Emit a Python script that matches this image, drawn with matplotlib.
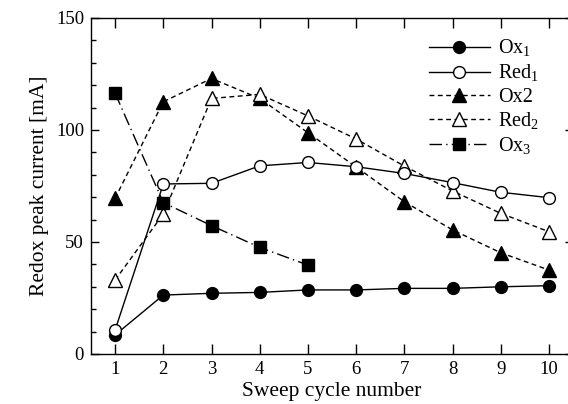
import matplotlib
matplotlib.use('Agg')
import matplotlib.pyplot as plt
from matplotlib.ticker import MultipleLocator

# sweep cycle numbers
cycles = [1, 2, 3, 4, 5, 6, 7, 8, 9, 10]
cycles_ox3 = [1, 2, 3, 4, 5]

# peak currents [mA]
ox1 = [8.5, 26.3, 27.1, 27.5, 28.6, 28.6, 29.3, 29.3, 30.0, 30.5]
red1 = [10.7, 75.9, 76.2, 84.0, 85.5, 83.6, 80.6, 76.5, 72.2, 69.8]
ox2 = [69.5, 112.6, 123.0, 114.1, 98.8, 83.5, 68.0, 55.4, 45.2, 37.5]
red2 = [33.0, 62.5, 114.1, 115.9, 106.3, 96.0, 83.9, 72.8, 62.8, 54.6]
ox3 = [116.4, 67.6, 57.3, 47.6, 39.7]

plt.rcParams.update({
    'font.family': 'Liberation Serif',
    'mathtext.fontset': 'custom',
    'mathtext.rm': 'Liberation Serif',
    'font.size': 13,
    'axes.linewidth': 1.0,
})

fig = plt.figure(figsize=(5.68, 4.04), dpi=100)
ax = fig.add_axes([91/568, 50/404, 482/568, 336/404])

ax.plot(cycles, ox1, 'k-', marker='o', ms=8.5, mfc='k', lw=1.0,
        label='Ox$_1$', zorder=3)
ax.plot(cycles, ox2, 'k--', marker='^', ms=9.5, mfc='k', lw=1.0,
        dashes=(3.5, 2.5), label='Ox2', zorder=3)
ax.plot(cycles, red1, 'k-', marker='o', ms=8.5, mfc='white', lw=1.0,
        label='Red$_1$', zorder=4)
ax.plot(cycles, red2, 'k--', marker='^', ms=9.5, mfc='white', lw=1.0,
        dashes=(3.5, 2.5), label='Red$_2$', zorder=3)
ax.plot(cycles_ox3, ox3, 'k', marker='s', ms=9, mfc='k', lw=1.0,
        dashes=(9, 3, 1, 3), label='Ox$_3$', zorder=3)

ax.set_xlim(0.5, 10.5)
ax.set_ylim(0, 150)
ax.set_xticks(cycles)
ax.yaxis.set_major_locator(MultipleLocator(50))
ax.yaxis.set_minor_locator(MultipleLocator(10))
ax.tick_params(which='major', direction='in', length=6, width=1,
               top=True, right=True, labelsize=13.5, pad=5)
ax.tick_params(which='minor', direction='in', length=3.5, width=1,
               top=False, right=True)
ax.tick_params(axis='x', which='major', length=7)

ax.set_xlabel('Sweep cycle number', fontsize=15.5, labelpad=3)
ax.set_ylabel('Redox peak current [mA]', fontsize=15.5, labelpad=5)

h, l = ax.get_legend_handles_labels()
order = [0, 2, 1, 3, 4]
ax.legend([h[i] for i in order], [l[i] for i in order],
          loc='upper left', bbox_to_anchor=(0.685, 0.965), frameon=False,
          fontsize=14.5, handlelength=3.0, handletextpad=0.4,
          labelspacing=0.18, borderaxespad=0)

fig.savefig('out.png', dpi=100, facecolor='white')
